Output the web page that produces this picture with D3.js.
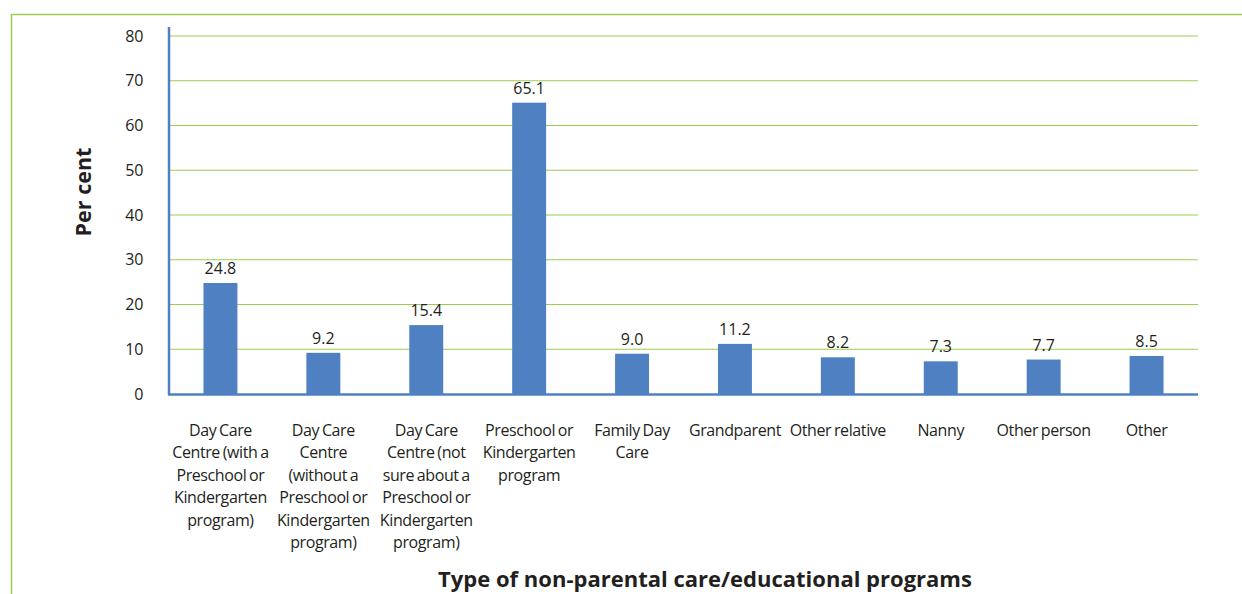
<!DOCTYPE html>
<html><head><meta charset="utf-8">
<script src="https://cdn.jsdelivr.net/npm/d3@7"></script>
<style>
body{margin:0;background:#fff;}
text{font-family:"Open Sans","Noto Sans",sans-serif;fill:#231f20;}
</style></head>
<body><svg id="c" width="1242" height="594"></svg>
<script>
const categories = [
  ["Day Care","Centre (with a","Preschool or","Kindergarten","program)"],
  ["Day Care","Centre","(without a","Preschool or","Kindergarten","program)"],
  ["Day Care","Centre (not","sure about a","Preschool or","Kindergarten","program)"],
  ["Preschool or","Kindergarten","program"],
  ["Family Day","Care"],
  ["Grandparent"],
  ["Other relative"],
  ["Nanny"],
  ["Other person"],
  ["Other"]
];
const values = [24.8, 9.2, 15.4, 65.1, 9.0, 11.2, 8.2, 7.3, 7.7, 8.5];
const yTicks = [0,10,20,30,40,50,60,70,80];
const yTitle = "Per cent";
const xTitle = "Type of non-parental care/educational programs";

const svg = d3.select("#c");
const green = "#9ACD50", blue = "#4F81C2";
const L = 169, R = 1198, T = 36, B = 394;

// frame
svg.append("line").attr("x1",11).attr("x2",1242).attr("y1",14.5).attr("y2",14.5).attr("stroke",green).attr("stroke-width",1.5);
svg.append("line").attr("x1",11.5).attr("x2",11.5).attr("y1",14).attr("y2",594).attr("stroke",green).attr("stroke-width",1.5);

const x = d3.scaleBand().domain(d3.range(categories.length)).range([L,R]).paddingInner(0.67).paddingOuter(0.335);
const y = d3.scaleLinear().domain([0,80]).range([B,T]);

// gridlines
svg.append("g").selectAll("line").data(yTicks.filter(d=>d>0)).join("line")
  .attr("x1",L).attr("x2",R).attr("y1",d=>y(d)).attr("y2",d=>y(d))
  .attr("stroke",green).attr("stroke-width",1.2);

// y tick labels
const yAxis = d3.axisLeft(y).tickValues(yTicks).tickSize(0).tickPadding(26);
const ya = svg.append("g").attr("transform",`translate(${L},0)`).call(yAxis);
ya.select(".domain").remove();
ya.selectAll("text").attr("font-size",16).attr("font-family","'Open Sans',sans-serif").attr("fill","#231f20").attr("letter-spacing","-0.3");

// bars
svg.append("g").selectAll("rect").data(values).join("rect")
  .attr("x",(d,i)=>x(i)).attr("width",x.bandwidth())
  .attr("y",d=>y(d)).attr("height",d=>B-y(d)).attr("fill",blue);

// value labels
svg.append("g").selectAll("text").data(values).join("text")
  .attr("x",(d,i)=>x(i)+x.bandwidth()/2).attr("y",d=>y(d)-9)
  .attr("text-anchor","middle").attr("font-size",16)
  .text(d=>d.toFixed(1));

// axes lines
svg.append("line").attr("x1",L).attr("x2",L).attr("y1",27).attr("y2",B+1).attr("stroke",blue).attr("stroke-width",2.5);
svg.append("line").attr("x1",L-1).attr("x2",R).attr("y1",B+0.5).attr("y2",B+0.5).attr("stroke",blue).attr("stroke-width",2.5);

// category labels
const cg = svg.append("g");
categories.forEach((lines,i)=>{
  const t = cg.append("text").attr("text-anchor","middle").attr("font-size",16).attr("letter-spacing","-0.4").attr("word-spacing","-1")
    .attr("x",x(i)+x.bandwidth()/2).attr("y",436);
  lines.forEach((s,j)=>t.append("tspan").attr("x",x(i)+x.bandwidth()/2).attr("dy",j?22.4:0).text(s));
});

// titles
svg.append("text").attr("transform","translate(91,192) rotate(-90)").attr("text-anchor","middle")
  .attr("font-size",21.5).attr("font-weight","bold").text(yTitle);
svg.append("text").attr("x",705).attr("y",587).attr("text-anchor","middle")
  .attr("font-size",22).attr("font-weight","bold").attr("letter-spacing","0").text(xTitle);
</script></body></html>
